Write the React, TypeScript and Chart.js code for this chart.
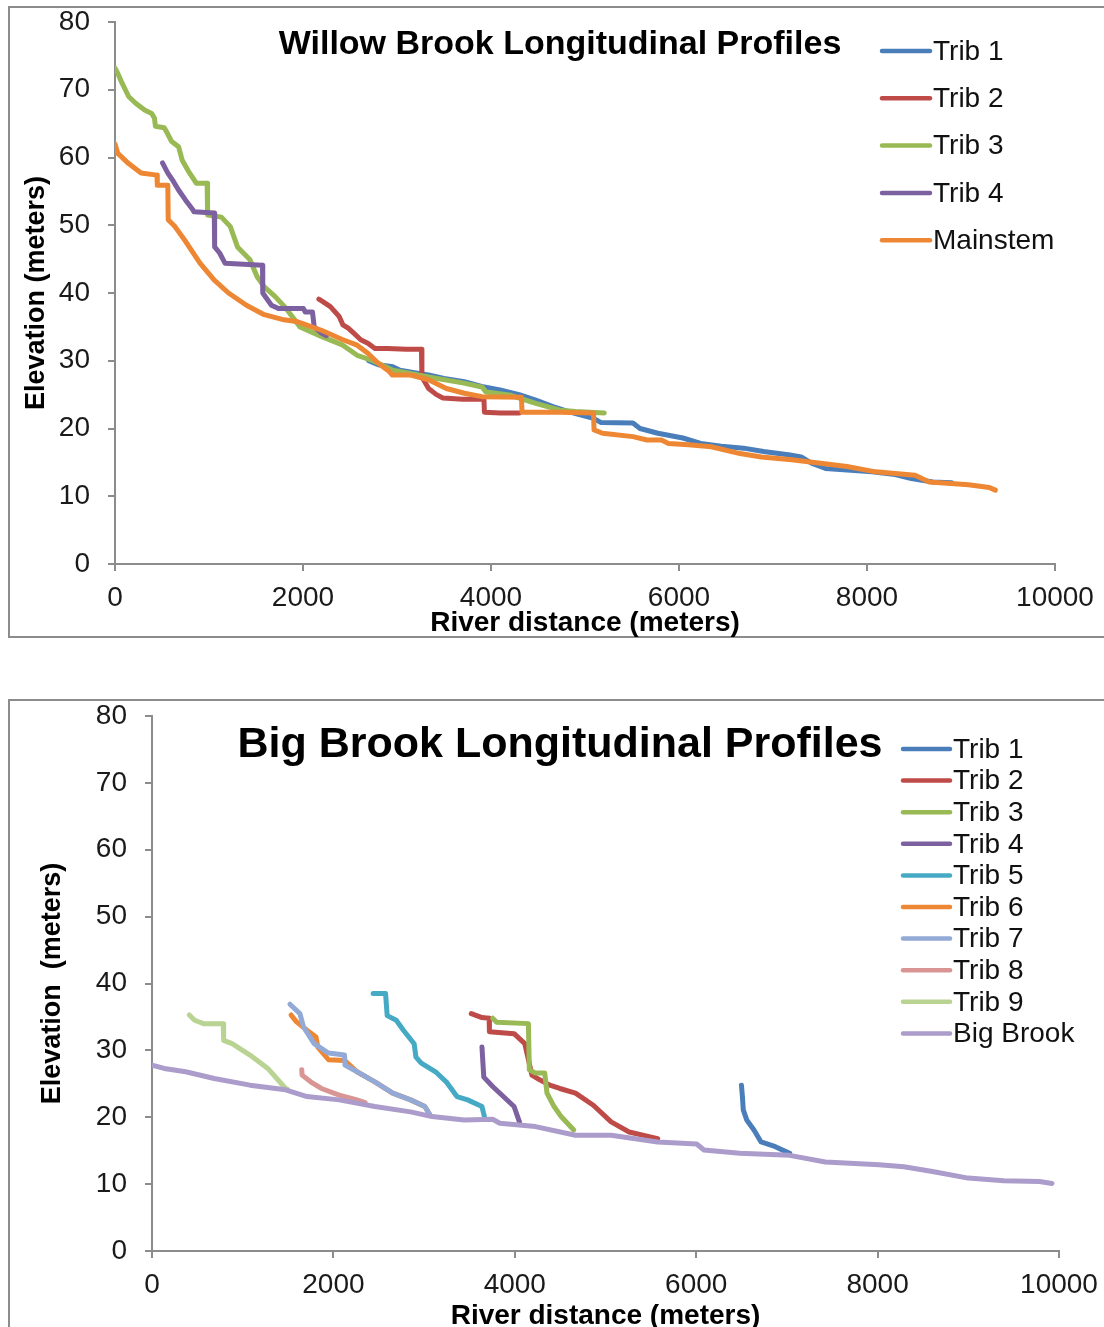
import React, { useEffect, useRef } from 'react';
import { Chart, registerables } from 'chart.js';

Chart.register(...registerables);

const FONT = '"Liberation Sans", Arial, Helvetica, sans-serif';

// ---------- Willow Brook (top chart) : [river distance m, elevation m] ----------
const WB_LABELS = ['Trib 1', 'Trib 2', 'Trib 3', 'Trib 4', 'Mainstem'];
const WB_COLORS = ['#4A7EBB', '#BE4B48', '#98B954', '#7D60A0', '#EE8733'];

const wbTrib1: [number, number][] = [
  [2700, 30.0], [2800, 29.4], [2956, 29.1], [3032, 28.6], [3200, 28.2], [3336, 27.9],
  [3500, 27.4], [3716, 26.9], [3900, 26.2], [4096, 25.7], [4300, 25.0], [4476, 24.2],
  [4666, 23.2], [4800, 22.6], [4901, 22.2], [5091, 21.5], [5167, 20.9], [5510, 20.8],
  [5585, 20.0], [5776, 19.3], [6041, 18.6], [6231, 17.8], [6450, 17.4], [6687, 17.1],
  [6900, 16.6], [7181, 16.1], [7300, 15.8], [7409, 14.9], [7560, 14.1], [7751, 13.9],
  [8054, 13.6], [8300, 13.2], [8473, 12.6], [8700, 12.1], [8900, 12.0],
];
const wbTrib2: [number, number][] = [
  [2169, 39.1], [2215, 38.7], [2291, 38.0], [2386, 36.5], [2424, 35.3], [2481, 34.8],
  [2537, 34.1], [2614, 33.1], [2690, 32.6], [2766, 31.8], [2900, 31.8], [3100, 31.7],
  [3260, 31.7], [3265, 27.6], [3336, 25.9], [3420, 25.0], [3488, 24.5], [3700, 24.3],
  [3925, 24.3], [3930, 22.4], [4100, 22.3], [4300, 22.3],
];
const wbTrib3: [number, number][] = [
  [0, 73.2], [30, 72.4], [68, 71.2], [110, 70.0], [145, 69.0], [220, 68.0], [315, 67.0],
  [391, 66.5], [420, 65.8], [430, 64.6], [524, 64.4], [560, 63.5], [600, 62.4], [676, 61.6],
  [715, 59.6], [780, 58.0], [866, 56.2], [980, 56.2], [985, 51.5], [1132, 51.2],
  [1227, 49.8], [1303, 46.8], [1436, 44.9], [1512, 42.4], [1588, 40.9], [1702, 39.5],
  [1816, 37.8], [1968, 35.0], [2082, 34.3], [2194, 33.6], [2424, 32.3], [2576, 30.8],
  [2727, 30.1], [2804, 29.6], [2956, 28.6], [3336, 27.6], [3714, 26.7], [3906, 26.1],
  [3946, 25.4], [4210, 24.9], [4476, 23.7], [4734, 22.7], [4900, 22.5], [5205, 22.3],
];
const wbTrib4: [number, number][] = [
  [505, 59.2], [562, 57.7], [620, 56.5], [676, 55.2], [751, 53.7], [828, 52.3], [840, 52.0],
  [1056, 51.8], [1060, 46.8], [1113, 45.9], [1170, 44.4], [1569, 44.1], [1572, 40.0],
  [1664, 38.2], [1739, 37.7], [2005, 37.7], [2024, 37.2], [2101, 37.2], [2119, 35.0],
  [2196, 34.1], [2250, 33.7],
];
const wbMain: [number, number][] = [
  [0, 62.0], [30, 60.6], [145, 59.1], [277, 57.7], [447, 57.4], [450, 55.9], [562, 55.9],
  [566, 50.8], [638, 49.8], [752, 47.6], [904, 44.4], [1056, 41.9], [1208, 40.0],
  [1398, 38.2], [1588, 36.8], [1778, 36.1], [1930, 35.8], [2196, 34.5], [2424, 33.1],
  [2576, 32.3], [2690, 31.1], [2804, 29.6], [2918, 28.4], [2950, 27.9], [3146, 27.9],
  [3336, 27.2], [3525, 25.9], [3716, 25.2], [3905, 24.7], [4324, 24.6], [4330, 22.4],
  [4734, 22.4], [5091, 22.3], [5096, 19.8], [5186, 19.3], [5510, 18.8], [5660, 18.3],
  [5813, 18.3], [5888, 17.8], [6100, 17.6], [6344, 17.3], [6649, 16.3], [6877, 15.8],
  [7200, 15.4], [7484, 14.9], [7787, 14.4], [8092, 13.6], [8511, 13.1], [8662, 12.1],
  [9080, 11.7], [9300, 11.3], [9365, 10.9],
];
const WB_SERIES = [wbTrib1, wbTrib2, wbTrib3, wbTrib4, wbMain];

// ---------- Big Brook (bottom chart) ----------
const BB_LABELS = ['Trib 1', 'Trib 2', 'Trib 3', 'Trib 4', 'Trib 5', 'Trib 6', 'Trib 7', 'Trib 8', 'Trib 9', 'Big Brook'];
const BB_COLORS = ['#4A7EBB', '#BE4B48', '#98B954', '#7D60A0', '#46AAC5', '#EE8733', '#93A9D6', '#D99594', '#B9D393', '#AB9CCB'];

const bbTrib1: [number, number][] = [
  [6499, 24.8], [6510, 23.0], [6519, 21.1], [6557, 19.6], [6637, 18.1], [6715, 16.3],
  [6873, 15.6], [7030, 14.6],
];
const bbTrib2: [number, number][] = [
  [3520, 35.5], [3638, 34.9], [3717, 34.8], [3720, 32.8], [3992, 32.5], [4110, 31.0],
  [4189, 26.3], [4275, 25.6], [4386, 24.8], [4496, 24.3], [4669, 23.6], [4866, 21.8],
  [5062, 19.3], [5260, 17.8], [5575, 16.8],
];
const bbTrib3: [number, number][] = [
  [3756, 34.8], [3800, 34.2], [4150, 34.0], [4160, 27.1], [4228, 26.6], [4330, 26.6],
  [4355, 23.6], [4433, 21.6], [4511, 20.1], [4650, 18.1],
];
const bbTrib4: [number, number][] = [
  [3638, 30.5], [3658, 26.0], [3756, 24.6], [3874, 23.1], [3992, 21.6], [4051, 19.3],
];
const bbTrib5: [number, number][] = [
  [2438, 38.5], [2575, 38.5], [2593, 35.2], [2693, 34.5], [2772, 33.0], [2890, 31.0],
  [2910, 29.0], [2969, 28.1], [3126, 26.8], [3244, 25.3], [3362, 23.1], [3480, 22.6],
  [3638, 21.6], [3665, 20.1],
];
const bbTrib6: [number, number][] = [
  [1533, 35.3], [1591, 34.3], [1709, 33.0], [1808, 32.0], [1828, 30.5], [1946, 28.6],
  [2123, 28.5], [2260, 26.8], [2457, 25.3], [2654, 23.6], [2851, 22.6], [3008, 21.6],
  [3067, 20.3],
];
const bbTrib7: [number, number][] = [
  [1521, 36.9], [1631, 35.5], [1670, 33.5], [1788, 31.0], [1946, 29.6], [2123, 29.3],
  [2128, 27.8], [2260, 26.8], [2457, 25.3], [2654, 23.6], [2851, 22.6], [3008, 21.6],
  [3067, 20.3],
];
const bbTrib8: [number, number][] = [
  [1651, 27.1], [1655, 26.3], [1749, 25.3], [1867, 24.3], [2064, 23.3], [2260, 22.6],
  [2350, 22.2],
];
const bbTrib9: [number, number][] = [
  [411, 35.3], [470, 34.5], [568, 34.0], [785, 34.0], [790, 31.5], [883, 31.0],
  [1080, 29.3], [1277, 27.3], [1473, 24.3], [1490, 24.2],
];
const bbMain: [number, number][] = [
  [0, 27.8], [135, 27.3], [371, 26.8], [686, 25.8], [1080, 24.8], [1473, 24.1],
  [1709, 23.1], [2064, 22.6], [2457, 21.6], [2851, 20.8], [3088, 20.1], [3441, 19.6],
  [3756, 19.7], [3835, 19.1], [4228, 18.6], [4669, 17.3], [5062, 17.3], [5575, 16.3],
  [6005, 16.0], [6086, 15.1], [6479, 14.6], [7030, 14.3], [7424, 13.3], [8015, 12.9],
  [8290, 12.6], [8605, 11.9], [8998, 10.9], [9392, 10.5], [9785, 10.4], [9923, 10.1],
];
const BB_SERIES = [bbTrib1, bbTrib2, bbTrib3, bbTrib4, bbTrib5, bbTrib6, bbTrib7, bbTrib8, bbTrib9, bbMain];

const X_MIN = 0, X_MAX = 10000, X_STEP = 2000;
const Y_MIN = 0, Y_MAX = 80, Y_STEP = 10;
const X_TITLE = 'River distance (meters)';
const WB_TITLE = 'Willow Brook Longitudinal Profiles';
const BB_TITLE = 'Big Brook Longitudinal Profiles';
const WB_Y_TITLE = 'Elevation (meters)';
const BB_Y_TITLE = 'Elevation  (meters)';

const overlayPlugin = {
  id: 'overlay',
  afterDraw(chart: any, _args: any, o: any) {
    const ctx = chart.ctx as CanvasRenderingContext2D;
    ctx.save();
    ctx.fillStyle = '#000';
    ctx.font = `bold ${o.titleSize}px ${FONT}`;
    ctx.textAlign = 'center';
    ctx.textBaseline = 'middle';
    ctx.fillText(o.title, o.titleX, o.titleY);
    ctx.font = `${o.legendSize}px ${FONT}`;
    ctx.textAlign = 'left';
    chart.data.datasets.forEach((ds: any, i: number) => {
      const y = o.legendY + i * o.legendGap;
      ctx.strokeStyle = ds.borderColor;
      ctx.lineWidth = 4.5;
      ctx.lineCap = 'round';
      ctx.beginPath();
      ctx.moveTo(o.legendX, y);
      ctx.lineTo(o.legendX + o.legendLine, y);
      ctx.stroke();
      ctx.fillStyle = '#111';
      ctx.fillText(ds.label, o.legendX + o.legendLine + 3, y + 1);
    });
    ctx.restore();
  },
};

function buildConfig(p: any) {
  const n = p.series.length;
  const datasets = p.series.map((s: [number, number][], i: number) => ({
    label: p.labels[i],
    data: s.map(([x, y]) => ({ x, y })),
    borderColor: p.colors[i],
    backgroundColor: p.colors[i],
    borderWidth: 5,
    pointRadius: 0,
    showLine: true,
    tension: 0,
    borderJoinStyle: 'round',
    borderCapStyle: 'round',
    order: n - i,
  }));
  const axisColor = '#8c8c8c';
  return {
    type: 'scatter',
    data: { datasets },
    plugins: [overlayPlugin],
    options: {
      animation: false,
      responsive: false,
      devicePixelRatio: 1,
      events: [],
      layout: { padding: { left: 0, top: p.padTop, right: p.padRight, bottom: 0 } },
      plugins: {
        legend: { display: false },
        tooltip: { enabled: false },
        title: { display: false },
        overlay: p.overlay,
      },
      scales: {
        x: {
          type: 'linear',
          min: X_MIN,
          max: X_MAX,
          afterFit: (s: any) => {
            s.height = p.xHeight;
            s.paddingLeft = 0;
            s.paddingRight = 0;
          },
          ticks: {
            stepSize: X_STEP,
            autoSkip: false,
            maxRotation: 0,
            color: '#1a1a1a',
            padding: p.xTickPad,
            font: { size: 28, family: FONT },
            callback: (v: any) => String(v),
          },
          grid: { drawOnChartArea: false, drawTicks: true, tickLength: 7, color: axisColor, lineWidth: 2 },
          border: { display: true, color: axisColor, width: 2 },
          title: {
            display: true,
            text: X_TITLE,
            color: '#000',
            font: { size: 28, weight: 'bold', family: FONT },
            padding: { top: 0, bottom: p.xTitlePad },
          },
        },
        y: {
          type: 'linear',
          min: Y_MIN,
          max: Y_MAX,
          afterFit: (s: any) => {
            s.width = p.yWidth;
            s.paddingTop = 0;
            s.paddingBottom = 0;
          },
          ticks: {
            stepSize: Y_STEP,
            color: '#1a1a1a',
            padding: 18,
            font: { size: 28, family: FONT },
          },
          grid: { drawOnChartArea: false, drawTicks: true, tickLength: 7, color: axisColor, lineWidth: 2 },
          border: { display: true, color: axisColor, width: 2 },
          title: {
            display: true,
            text: p.yTitle,
            color: '#000',
            font: { size: 27, weight: 'bold', family: FONT },
            padding: { top: p.yTitlePad, bottom: 0 },
          },
        },
      },
    },
  };
}

function ChartCanvas({ config, left, top, width, height }: any) {
  const ref = useRef<HTMLCanvasElement>(null);
  useEffect(() => {
    const chart = new Chart(ref.current as HTMLCanvasElement, config);
    return () => chart.destroy();
  }, []);
  return (
    <canvas
      ref={ref}
      width={width}
      height={height}
      style={{ position: 'absolute', left, top, width, height }}
    />
  );
}

const topConfig = buildConfig({
  series: WB_SERIES,
  labels: WB_LABELS,
  colors: WB_COLORS,
  yTitle: WB_Y_TITLE,
  padTop: 22,
  padRight: 49,
  yWidth: 115,
  xHeight: 78,
  xTickPad: 10,
  xTitlePad: 2,
  yTitlePad: 20,
  overlay: {
    title: WB_TITLE, titleX: 560, titleY: 45, titleSize: 34,
    legendX: 882, legendY: 51, legendGap: 47.3, legendLine: 48, legendSize: 28,
  },
});

const bottomConfig = buildConfig({
  series: BB_SERIES,
  labels: BB_LABELS,
  colors: BB_COLORS,
  yTitle: BB_Y_TITLE,
  padTop: 26,
  padRight: 45,
  yWidth: 152,
  xHeight: 83,
  xTickPad: 10,
  xTitlePad: 1,
  yTitlePad: 36,
  overlay: {
    title: BB_TITLE, titleX: 560, titleY: 55, titleSize: 43,
    legendX: 903, legendY: 59, legendGap: 31.6, legendLine: 47, legendSize: 28,
  },
});

export default function App() {
  return (
    <div style={{ position: 'relative', width: 1104, height: 1327, overflow: 'hidden', background: '#fff' }}>
      <style>{'html,body{margin:0;padding:0;overflow:hidden;background:#fff}'}</style>
      <div style={{ position: 'absolute', left: 8, top: 6, width: 1110, height: 628, border: '2px solid #8c8c8c' }} />
      <div style={{ position: 'absolute', left: 8, top: 699, width: 1110, height: 700, border: '2px solid #8c8c8c' }} />
      <ChartCanvas config={topConfig} left={0} top={0} width={1104} height={642} />
      <ChartCanvas config={bottomConfig} left={0} top={690} width={1104} height={644} />
    </div>
  );
}
